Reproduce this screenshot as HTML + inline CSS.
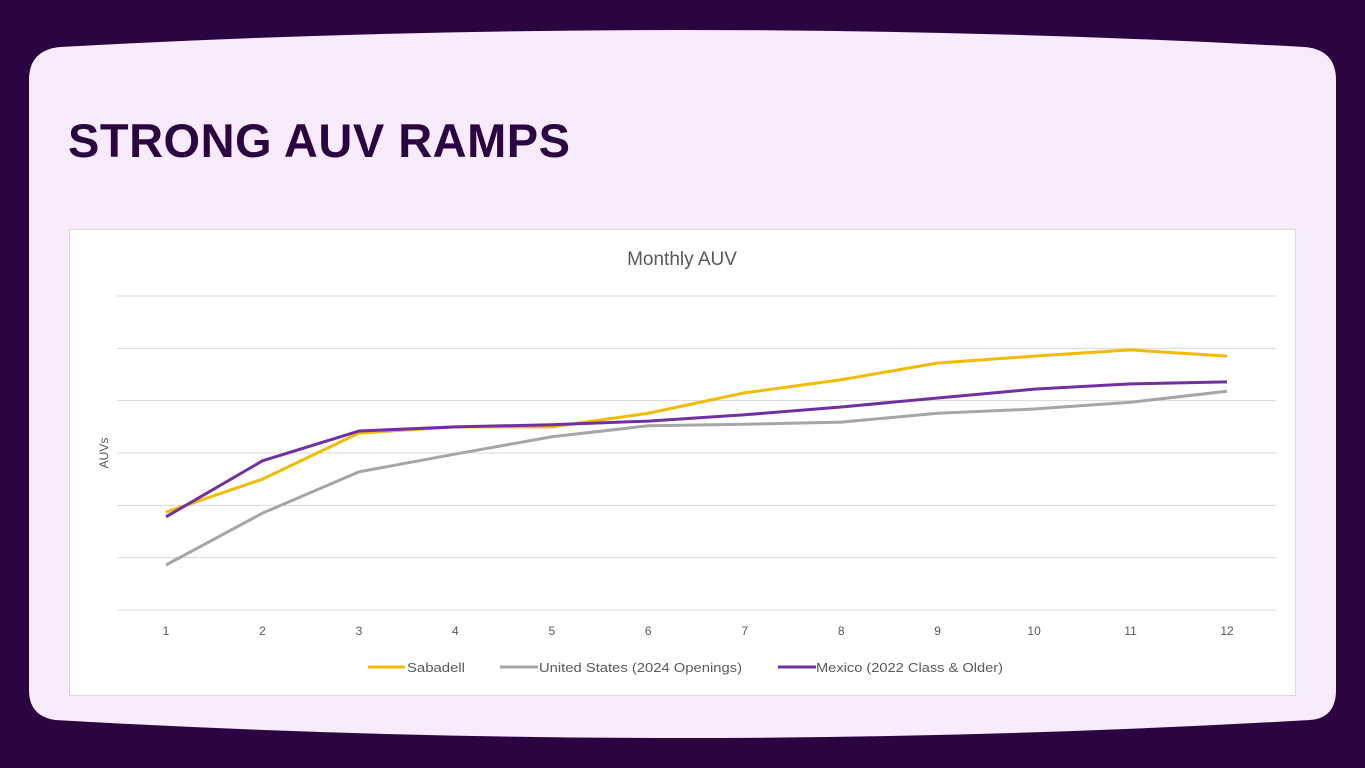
<!DOCTYPE html>
<html><head><meta charset="utf-8"><style>
html,body{margin:0;padding:0;width:1365px;height:768px;overflow:hidden;background:#2a0542;font-family:"Liberation Sans",sans-serif}
</style></head><body>
<svg width="1365" height="768" viewBox="0 0 1365 768">
<rect x="0" y="0" width="1365" height="768" fill="#2a0542"/>
<path d="M29,80 Q29,50 60,47 Q683,13 1305,47 Q1336,50 1336,80 L1336,690 Q1336,718 1310,720 Q683,756 55,720 Q29,716 29,690 Z" fill="#f8ebfd"/>
<text x="68" y="157" font-family="Liberation Sans, sans-serif" font-weight="bold" font-size="47" fill="#2a0542" textLength="502">STRONG AUV RAMPS</text>
<rect x="69.5" y="229.5" width="1226" height="466" fill="#fff" stroke="#d9d9d9"/>
<text x="682" y="265" text-anchor="middle" font-size="19" fill="#595959">Monthly AUV</text>
<text transform="translate(108,453) rotate(-90)" text-anchor="middle" font-size="12" fill="#595959">AUVs</text>
<g id="grid"></g><g id="xt"></g><g id="lines"></g>
<g font-size="13" fill="#595959">
<line x1="368" y1="667" x2="405" y2="667" stroke="#f2bb00" stroke-width="3"/>
<text x="407" y="672" textLength="58" lengthAdjust="spacingAndGlyphs">Sabadell</text>
<line x1="500" y1="667" x2="538" y2="667" stroke="#a6a6a6" stroke-width="3"/>
<text x="539" y="672" textLength="203" lengthAdjust="spacingAndGlyphs">United States (2024 Openings)</text>
<line x1="778" y1="667" x2="816" y2="667" stroke="#7030a0" stroke-width="3"/>
<text x="816" y="672" textLength="187" lengthAdjust="spacingAndGlyphs">Mexico (2022 Class &amp; Older)</text>
</g>
</svg>
<script>
const categories=[1,2,3,4,5,6,7,8,9,10,11,12];
const sabadell=[1.87,2.50,3.38,3.50,3.50,3.76,4.15,4.40,4.72,4.85,4.97,4.85];
const unitedStates=[0.86,1.85,2.64,2.98,3.31,3.52,3.55,3.59,3.76,3.84,3.97,4.18];
const mexico=[1.78,2.85,3.42,3.50,3.54,3.61,3.73,3.88,4.05,4.22,4.32,4.36];
const yTicks=[0,1,2,3,4,5,6];
const NS="http://www.w3.org/2000/svg";
function xs(i){return 166+i*(1227-166)/11;}
function ys(v){return 610-v*(610-296)/6;}
const grid=document.getElementById('grid');
yTicks.forEach(t=>{
 const l=document.createElementNS(NS,'line');
 l.setAttribute('x1',117);l.setAttribute('x2',1276);
 l.setAttribute('y1',ys(t));l.setAttribute('y2',ys(t));
 l.setAttribute('stroke','#d9d9d9');l.setAttribute('stroke-width',1);
 
 
 grid.appendChild(l);
});
const xt=document.getElementById('xt');
categories.forEach((c,i)=>{
 const t=document.createElementNS(NS,'text');
 t.setAttribute('x',xs(i));t.setAttribute('y',635);
 t.setAttribute('text-anchor','middle');t.setAttribute('font-size','12');t.setAttribute('fill','#595959');
 t.textContent=c;
 
 
 xt.appendChild(t);
});
const lines=document.getElementById('lines');
[[unitedStates,'#a6a6a6','line-united-states'],[sabadell,'#f2bb00','line-sabadell'],[mexico,'#7030a0','line-mexico']].forEach(s=>{
 const p=document.createElementNS(NS,'polyline');
 p.setAttribute('points',s[0].map((v,i)=>xs(i)+','+ys(v)).join(' '));
 p.setAttribute('fill','none');p.setAttribute('stroke',s[1]);p.setAttribute('stroke-width',3);
 p.setAttribute('stroke-linejoin','round');
 
 
 lines.appendChild(p);
});
</script>
</body></html>
